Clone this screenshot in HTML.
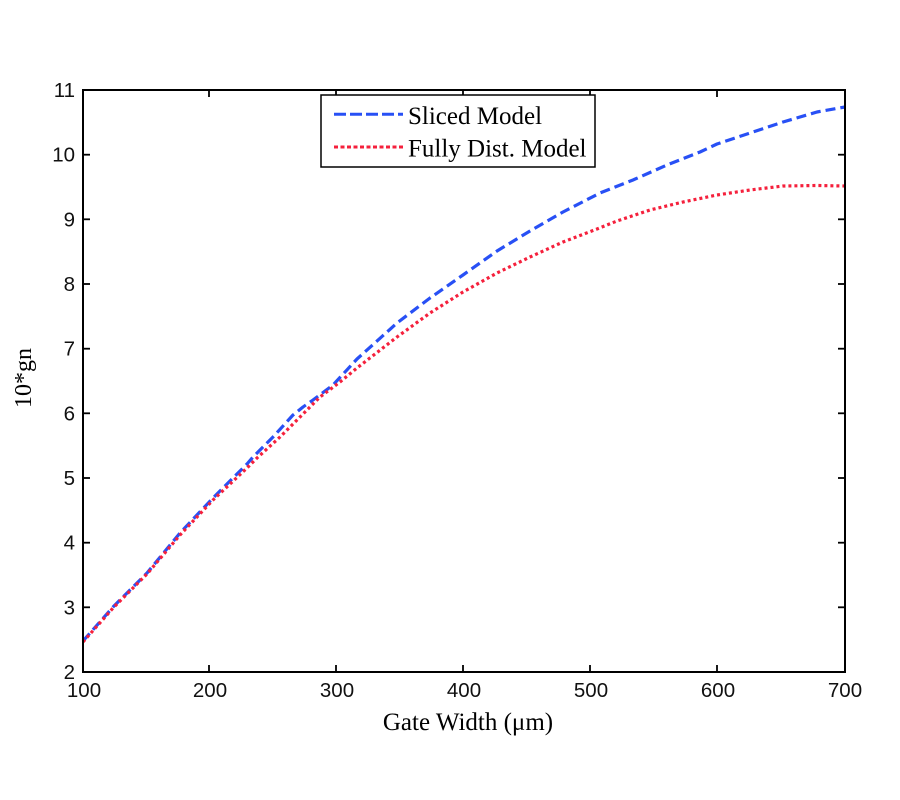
<!DOCTYPE html>
<html>
<head>
<meta charset="utf-8">
<style>
html,body{margin:0;padding:0;background:#fff;}
svg{display:block;}
</style>
</head>
<body>
<svg width="900" height="800" viewBox="0 0 900 800" xmlns="http://www.w3.org/2000/svg">
<rect x="0" y="0" width="900" height="800" fill="#fff"/>

<!-- series -->
<polyline fill="none" stroke="#2850f5" stroke-width="3.2" stroke-dasharray="10,5" stroke-linejoin="round"
points="83,641 113,607 147,573 180,533 213,498 247,464 253,457 273,437 293,415 303,407 313,400 333,385 357,359 397,323 430,298 463,275 497,251 530,231 563,212 600,193 633,180 667,165 700,152 717,144 750,133 783,122 817,112 845,107"/>
<polyline fill="none" stroke="#f5203c" stroke-width="3.2" stroke-dasharray="3,3" stroke-linejoin="round"
points="83,642 113,608 147,574 180,535 213,500 247,468 257,458 280,437 300,417 320,397 340,382 357,368 397,337 430,313 463,292 497,273 530,257 563,242 597,229 617,221 650,210 683,202 717,195 750,190 783,186 817,185.5 845,186"/>

<!-- axes box -->
<rect x="83" y="90" width="762" height="582" fill="none" stroke="#000" stroke-width="2"/>

<!-- x ticks -->
<g stroke="#000" stroke-width="1.8">
<line x1="209" y1="672" x2="209" y2="665"/><line x1="209" y1="90" x2="209" y2="97"/>
<line x1="336" y1="672" x2="336" y2="665"/><line x1="336" y1="90" x2="336" y2="97"/>
<line x1="463" y1="672" x2="463" y2="665"/><line x1="463" y1="90" x2="463" y2="97"/>
<line x1="590" y1="672" x2="590" y2="665"/><line x1="590" y1="90" x2="590" y2="97"/>
<line x1="717" y1="672" x2="717" y2="665"/><line x1="717" y1="90" x2="717" y2="97"/>
</g>
<!-- y ticks -->
<g stroke="#000" stroke-width="1.8">
<line x1="83" y1="607.3" x2="90" y2="607.3"/><line x1="845" y1="607.3" x2="838" y2="607.3"/>
<line x1="83" y1="542.7" x2="90" y2="542.7"/><line x1="845" y1="542.7" x2="838" y2="542.7"/>
<line x1="83" y1="478" x2="90" y2="478"/><line x1="845" y1="478" x2="838" y2="478"/>
<line x1="83" y1="413.3" x2="90" y2="413.3"/><line x1="845" y1="413.3" x2="838" y2="413.3"/>
<line x1="83" y1="348.7" x2="90" y2="348.7"/><line x1="845" y1="348.7" x2="838" y2="348.7"/>
<line x1="83" y1="284" x2="90" y2="284"/><line x1="845" y1="284" x2="838" y2="284"/>
<line x1="83" y1="219.3" x2="90" y2="219.3"/><line x1="845" y1="219.3" x2="838" y2="219.3"/>
<line x1="83" y1="154.7" x2="90" y2="154.7"/><line x1="845" y1="154.7" x2="838" y2="154.7"/>
</g>

<!-- y tick labels -->
<g font-family="Liberation Sans, Arial, sans-serif" font-size="20.5" fill="#111" text-anchor="end">
<text x="75" y="679">2</text>
<text x="75" y="614.3">3</text>
<text x="75" y="549.7">4</text>
<text x="75" y="485">5</text>
<text x="75" y="420.3">6</text>
<text x="75" y="355.7">7</text>
<text x="75" y="291">8</text>
<text x="75" y="226.3">9</text>
<text x="75" y="161.7">10</text>
<text x="75" y="97">11</text>
</g>
<!-- x tick labels -->
<g font-family="Liberation Sans, Arial, sans-serif" font-size="20.5" fill="#111" text-anchor="middle">
<text x="84" y="697">100</text>
<text x="210" y="697">200</text>
<text x="337" y="697">300</text>
<text x="464" y="697">400</text>
<text x="591" y="697">500</text>
<text x="718" y="697">600</text>
<text x="845" y="697">700</text>
</g>

<!-- axis labels -->
<text x="468" y="730" font-family="Liberation Serif, Times New Roman, serif" font-size="25" fill="#000" text-anchor="middle">Gate Width (μm)</text>
<text x="0" y="0" transform="translate(31,378) rotate(-90)" font-family="Liberation Serif, Times New Roman, serif" font-size="24" fill="#000" text-anchor="middle">10*gn</text>

<!-- legend -->
<rect x="321" y="95" width="274" height="72" fill="#fff" stroke="#000" stroke-width="1.5"/>
<line x1="334" y1="114.3" x2="403" y2="114.3" stroke="#2850f5" stroke-width="3" stroke-dasharray="12,4"/>
<line x1="334" y1="147" x2="403" y2="147" stroke="#f5203c" stroke-width="3" stroke-dasharray="4,2.5"/>
<g font-family="Liberation Serif, Times New Roman, serif" font-size="25" fill="#000">
<text x="408" y="124">Sliced Model</text>
<text x="408" y="156.5">Fully Dist. Model</text>
</g>
</svg>
</body>
</html>
